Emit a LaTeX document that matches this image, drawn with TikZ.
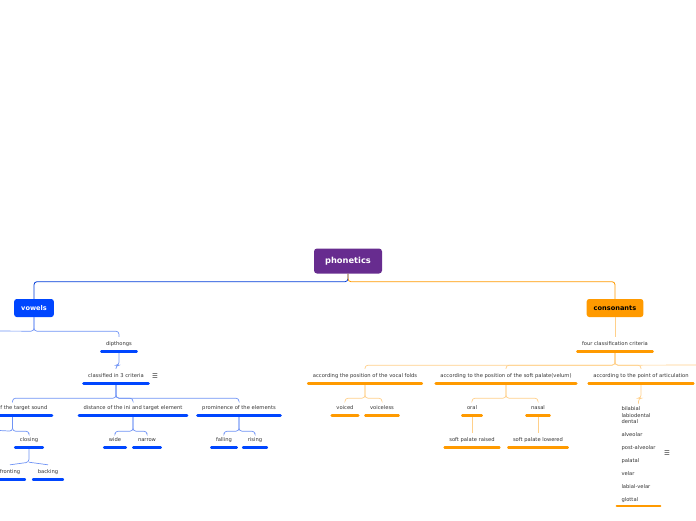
\documentclass[tikz,border=0pt]{standalone}
\usepackage{fontspec}
\setmainfont{DejaVu Sans}
\definecolor{phon}{HTML}{672C8F}
\definecolor{vowc}{HTML}{0046FF}
\definecolor{conc}{HTML}{FF9A00}
\definecolor{vlink}{HTML}{6F93F5}
\definecolor{olink}{HTML}{FFD08A}
\definecolor{txt}{HTML}{333333}

\begin{document}
\begin{tikzpicture}[x=1pt, y=-1pt,
    root/.style={fill=phon, rounded corners=3pt, text=white, font=\fontsize{8.3}{9}\selectfont\bfseries, minimum width=68pt, minimum height=25pt},
    mainv/.style={fill=vowc, rounded corners=2.5pt, text=white, font=\fontsize{6.6}{7}\selectfont\bfseries, minimum height=18pt, inner xsep=7pt},
    mainc/.style={fill=conc, rounded corners=2.5pt, text=black, font=\fontsize{6.6}{7}\selectfont\bfseries, minimum height=18pt, inner xsep=7pt},
    topic/.style={text=txt, font=\fontsize{5.2}{6}\selectfont, inner xsep=5.5pt, minimum height=14pt},
    bul/.style={draw=vowc, line width=2.6pt, line cap=round},
    oul/.style={draw=conc, line width=2.6pt, line cap=round},
    bmain/.style={draw=vowc!85!black, line width=0.8pt, rounded corners=3pt},
    omain/.style={draw=conc, line width=0.8pt, rounded corners=3pt},
    blink/.style={draw=vlink, line width=0.7pt, rounded corners=3pt},
    olink/.style={draw=olink, line width=0.7pt, rounded corners=3pt},
    menu/.style={text=txt, font=\fontsize{6.5}{6.5}\selectfont}]

    \useasboundingbox (0,0) rectangle (696,520);
    \clip (0,0) rectangle (696,520);

    % root and main branches
    \node[root] (root) at (348,261) {phonetics};
    \node[mainv] (vow) at (34,308) {vowels};
    \node[mainc] (con) at (615,308) {consonants};

    % vowels side
    \node[topic] (dip) at (119,344) {dipthongs};
    \node[topic] (cls) at (116,376) {classified in 3 criteria};
    \node[menu] (icl) at (155,376) {☰};
    \node[topic, anchor=east] (qual) at (53,408) {quality of the target sound};
    \node[topic] (dist) at (133,408) {distance of the ini and target element};
    \node[topic] (prom) at (239,408) {prominence of the elements};
    \node[topic] (clo) at (29,440) {closing};
    \node[topic] (fro) at (10,472) {fronting};
    \node[topic] (bac) at (48,472) {backing};
    \node[topic] (wide) at (115,440) {wide};
    \node[topic] (nar) at (147,440) {narrow};
    \node[topic] (fal) at (224,440) {falling};
    \node[topic] (ris) at (255,440) {rising};

    % consonants side
    \node[topic] (four) at (615,344) {four classification criteria};
    \node[topic] (vf) at (365,376) {according the position of the vocal folds};
    \node[topic] (sp) at (506,376) {according to the position of the soft palate(velum)};
    \node[topic] (poa) at (641,376) {according to the point of articulation};
    \node[topic] (voi) at (345,408) {voiced};
    \node[topic] (vl) at (382,408) {voiceless};
    \node[topic] (oral) at (472,408) {oral};
    \node[topic] (nas) at (538,408) {nasal};
    \node[topic] (spr) at (472,440) {soft palate raised};
    \node[topic] (spl) at (538,440) {soft palate lowered};
    \node[topic, align=left, font=\fontsize{5.2}{6.5}\selectfont, inner ysep=3pt, anchor=south] (plc) at (638.5,506)
      {bilabial\\labiodental\\dental\\[6.5pt]alveolar\\[6.5pt]post-alveolar\\[6.5pt]palatal\\[6.5pt]velar\\[6.5pt]labial-velar\\[6.5pt]glottal};
    \node[menu] (icr) at (667,453) {☰};

    % off-page ends
    \coordinate (offv) at (-10,331);
    \coordinate (offq) at (-10,430);
    \coordinate (offr) at (710,365);

    % connectors
    \draw[bmain] (root.south) -- ++(0,8) -| (vow.north);
    \draw[omain] (root.south) -- ++(0,8) -| (con.north);

    \draw[blink] (vow.south) -- ++(0,14) -| (dip.north);
    \draw[blink] (vow.south) -- ++(0,14) -- (offv);
    \draw[blink] (dip.south) -- ++(0,14) -| (cls.north);
    \foreach \c in {qual,dist,prom}
        \draw[blink] (cls.south) -- ++(0,15) -| (\c.north);
    \draw[blink] (qual.south) -- ++(0,16) -| (clo.north);
    \draw[blink] (qual.south) -- ++(0,16) -- (offq);
    \draw[blink] (clo.south) -- ++(0,15) coordinate (cj) -- (fro.north);
    \draw[blink] (cj) -- (bac.north);
    \foreach \c in {wide,nar}
        \draw[blink] (dist.south) -- ++(0,16) -| (\c.north);
    \foreach \c in {fal,ris}
        \draw[blink] (prom.south) -- ++(0,16) -| (\c.north);

    \draw[olink] (con.south) -- (four.north);
    \foreach \c in {vf,sp,poa}
        \draw[olink] (four.south) -- ++(0,14) -| (\c.north);
    \draw[olink] (four.south) -- ++(0,14) -- (offr);
    \foreach \c in {voi,vl}
        \draw[olink] (vf.south) -- ++(0,15) -| (\c.north);
    \foreach \c in {oral,nas}
        \draw[olink] (sp.south) -- ++(0,15) -| (\c.north);
    \draw[olink] (oral.south) -- (spr.north);
    \draw[olink] (nas.south) -- (spl.north);
    \draw[olink] (poa.south) -- ++(0,15) -| (plc.north);

    % underlines
    \foreach \n in {dip,cls,qual,dist,prom,clo,fro,bac,wide,nar,fal,ris}
        \draw[bul] ([xshift=1pt]\n.south west) -- ([xshift=-1pt]\n.south east);
    \foreach \n in {four,vf,sp,poa,voi,vl,oral,nas,spr,spl,plc}
        \draw[oul] ([xshift=1pt]\n.south west) -- ([xshift=-1pt]\n.south east);
\end{tikzpicture}
\end{document}
